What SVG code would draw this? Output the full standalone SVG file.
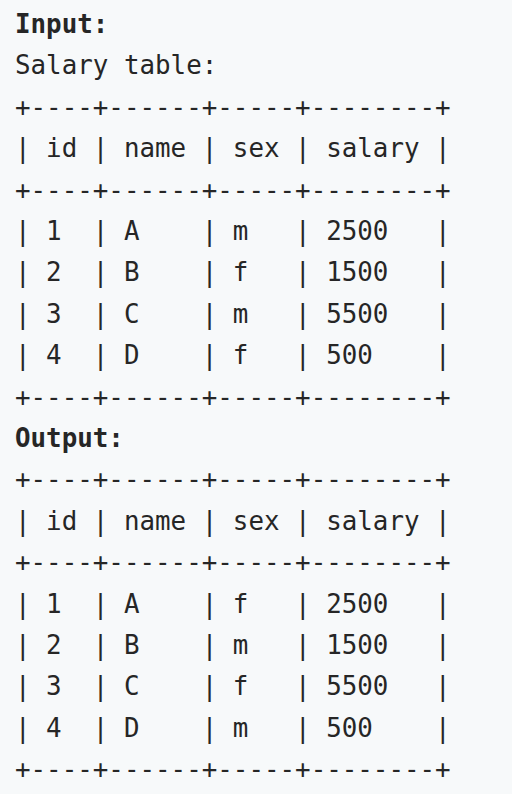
<svg xmlns="http://www.w3.org/2000/svg" width="512" height="794" viewBox="0 0 512 794">
<style>
.t{font-family:"DejaVu Sans Mono","Liberation Mono",monospace;font-size:25.85px;fill:#262626;white-space:pre}
.b{font-weight:bold}
</style>
<rect x="0" y="0" width="512" height="794" fill="#f7f9fa"/>
<g id="code">
<text class="t" xml:space="preserve" x="15" y="33"><tspan x="15" y="33" class="b">Input:</tspan><tspan x="15" y="74.4">Salary table:</tspan><tspan x="15" y="115.8">+----+------+-----+--------+</tspan><tspan x="15" y="157.2">| id | name | sex | salary |</tspan><tspan x="15" y="198.6">+----+------+-----+--------+</tspan><tspan x="15" y="240">| 1  | A    | m   | 2500   |</tspan><tspan x="15" y="281.4">| 2  | B    | f   | 1500   |</tspan><tspan x="15" y="322.8">| 3  | C    | m   | 5500   |</tspan><tspan x="15" y="364.2">| 4  | D    | f   | 500    |</tspan><tspan x="15" y="405.6">+----+------+-----+--------+</tspan><tspan x="15" y="447" class="b">Output:</tspan><tspan x="15" y="488.4">+----+------+-----+--------+</tspan><tspan x="15" y="529.8">| id | name | sex | salary |</tspan><tspan x="15" y="571.2">+----+------+-----+--------+</tspan><tspan x="15" y="612.6">| 1  | A    | f   | 2500   |</tspan><tspan x="15" y="654">| 2  | B    | m   | 1500   |</tspan><tspan x="15" y="695.4">| 3  | C    | f   | 5500   |</tspan><tspan x="15" y="736.8">| 4  | D    | m   | 500    |</tspan><tspan x="15" y="778.2">+----+------+-----+--------+</tspan></text>
</g>
</svg>
